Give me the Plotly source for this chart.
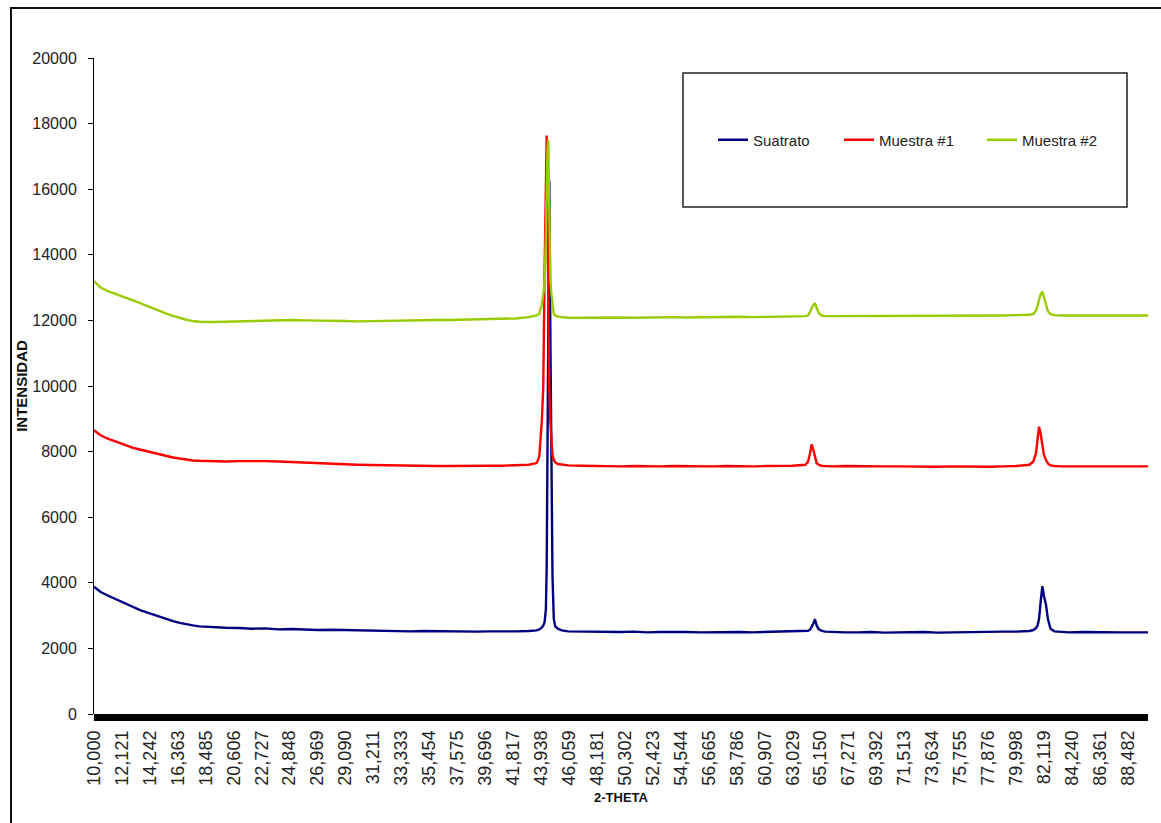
import plotly.graph_objects as go

# ---- data ----
two_theta = [
    10, 10.5, 11, 11.5, 12, 12.5, 13, 13.5, 14, 14.5, 15, 15.5, 16, 16.5, 17, 17.5,
    18, 19, 20, 21, 22, 23, 24, 25, 26, 27, 28, 29, 30, 31, 32, 33, 34, 35, 36, 37,
    38, 39, 40, 41, 42, 43,
    43.6, 43.8, 44.0, 44.1, 44.2, 44.3, 44.36, 44.42, 44.48, 44.56, 44.64, 44.72, 44.8,
    44.9, 45.0, 45.2, 45.5,
    46, 47, 48, 49, 50, 51, 52, 53, 54, 55, 56, 57, 58, 59, 60, 61, 62, 63,
    64.0, 64.2, 64.35, 64.47, 64.6, 64.72, 64.85, 65.0, 65.2, 65.5,
    66, 67, 68, 69, 70, 71, 72, 73, 74, 75, 76, 77, 78, 79, 80,
    81.0, 81.3, 81.5, 81.62, 81.73, 81.85, 81.98, 82.1, 82.25, 82.4, 82.6, 82.9,
    83.5, 84, 85, 86, 87, 88, 89, 90,
]

suatrato = [
    3880, 3720, 3620, 3530, 3430, 3340, 3250, 3170, 3100, 3030, 2960, 2890, 2830, 2780, 2730, 2700,
    2670, 2640, 2630, 2620, 2600, 2610, 2580, 2590, 2570, 2560, 2570, 2560, 2540, 2550, 2530, 2530,
    2520, 2530, 2520, 2510, 2520, 2510, 2520, 2510, 2520, 2530,
    2550, 2580, 2640, 2700, 2800, 3200, 4500, 8000, 12500, 16240, 11500, 8300, 4200,
    2900, 2680, 2600, 2550,
    2520, 2510, 2500, 2510, 2500, 2510, 2490, 2500, 2510, 2500, 2490, 2500, 2490, 2500, 2490, 2500, 2500, 2510,
    2520, 2540, 2570, 2650, 2760, 2890, 2700, 2590, 2540, 2510,
    2500, 2490, 2490, 2500, 2480, 2490, 2490, 2500, 2480, 2490, 2500, 2490, 2500, 2510, 2510,
    2530, 2560, 2620, 2700, 2900, 3400, 3900, 3600, 3350, 2900, 2600, 2520,
    2500, 2490, 2500, 2490, 2500, 2490, 2490, 2490,
]

muestra1 = [
    8650, 8500, 8400, 8320, 8250, 8180, 8110, 8060, 8000, 7950, 7900, 7860, 7820, 7790, 7750, 7730,
    7720, 7700, 7700, 7710, 7720, 7710, 7700, 7680, 7670, 7650, 7640, 7620, 7600, 7590, 7580, 7570,
    7570, 7560, 7560, 7560, 7570, 7560, 7570, 7570, 7580, 7600,
    7650, 7850, 9000, 10000, 13500, 16500, 17640, 15000, 12000, 9800, 8900, 8300, 7900,
    7750, 7680, 7620, 7600,
    7580, 7570, 7560, 7560, 7550, 7560, 7550, 7550, 7560, 7550, 7540, 7550, 7560, 7550, 7550, 7560, 7560, 7570,
    7600, 7700, 7950, 8220, 8050, 7800, 7650, 7600, 7570, 7560,
    7550, 7560, 7550, 7540, 7550, 7550, 7540, 7550, 7540, 7550, 7540, 7550, 7540, 7550, 7560,
    7600, 7700, 7950, 8400, 8760, 8550, 8150, 7900, 7750, 7640, 7580, 7560,
    7550, 7550, 7560, 7550, 7550, 7550, 7550, 7550,
]

muestra2 = [
    13200, 13000, 12900, 12820, 12750, 12680, 12600, 12530, 12450, 12350, 12270, 12210, 12140, 12070, 12020, 11980,
    11960, 11950, 11960, 11980, 12000, 12010, 12000, 12010, 12000, 12000, 11990, 11980, 11970, 11980, 11990, 12000,
    12000, 12000, 12010, 12010, 12020, 12030, 12030, 12040, 12060, 12100,
    12150, 12200, 12500, 12800, 13150, 14500, 16000, 17200, 17500, 15000, 13200, 12800, 12450,
    12200, 12150, 12120, 12100,
    12080, 12080, 12090, 12080, 12090, 12080, 12090, 12090, 12100, 12090, 12100, 12100, 12100, 12110, 12100, 12110, 12110, 12120,
    12130, 12160, 12250, 12380, 12480, 12530, 12380, 12240, 12150, 12130,
    12130, 12130, 12140, 12140, 12130, 12140, 12150, 12140, 12150, 12140, 12150, 12150, 12140, 12150, 12160,
    12170, 12200, 12300, 12450, 12620, 12800, 12880, 12700, 12450, 12280, 12190, 12160,
    12150, 12150, 12160, 12150, 12160, 12150, 12160, 12150,
]

series_names = ["Suatrato", "Muestra #1", "Muestra #2"]
series_colors = ["#000080", "#FF0000", "#99CC00"]

x_tick_labels = [
    "10,000", "12,121", "14,242", "16,363", "18,485", "20,606", "22,727", "24,848",
    "26,969", "29,090", "31,211", "33,333", "35,454", "37,575", "39,696", "41,817",
    "43,938", "46,059", "48,181", "50,302", "52,423", "54,544", "56,665", "58,786",
    "60,907", "63,029", "65,150", "67,271", "69,392", "71,513", "73,634", "75,755",
    "77,876", "79,998", "82,119", "84,240", "86,361", "88,482",
]
x_tick_vals = [float(s.replace(",", ".")) for s in x_tick_labels]
y_tick_vals = [0, 2000, 4000, 6000, 8000, 10000, 12000, 14000, 16000, 18000, 20000]
y_tick_text = [str(v) for v in y_tick_vals]

# ---- figure ----
W, H = 1161, 823
L, R, T, B = 94, 13, 58, 109
pw, ph = W - L - R, H - T - B

def px_x(p):
    return (p - L) / pw

def px_y(p):
    return (H - B - p) / ph

fig = go.Figure()
legend_ids = ["legend", "legend2", "legend3"]
for name, ys, col, lid in zip(series_names, [suatrato, muestra1, muestra2], series_colors, legend_ids):
    fig.add_trace(go.Scatter(
        x=two_theta, y=ys, mode="lines", name=name,
        line=dict(color=col, width=2.4),
        legend=lid,
    ))

leg_font = dict(family="Liberation Sans, Arial, sans-serif", size=15, color="#222")
leg_common = dict(orientation="h", xanchor="left", yanchor="middle", y=px_y(140),
                  bgcolor="rgba(0,0,0,0)", borderwidth=0, font=leg_font)

fig.update_layout(
    width=W, height=H,
    margin=dict(l=L, r=R, t=T, b=B, pad=0),
    paper_bgcolor="white", plot_bgcolor="white",
    showlegend=True,
    legend=dict(x=px_x(713), **leg_common),
    legend2=dict(x=px_x(839), **leg_common),
    legend3=dict(x=px_x(982), **leg_common),
    font=dict(family="Liberation Sans, Arial, sans-serif", color="#222"),
    xaxis=dict(
        range=[10, 90], showgrid=False, zeroline=False, showline=False,
        tickmode="array", tickvals=x_tick_vals, ticktext=x_tick_labels,
        tickangle=-90, ticks="", ticklabelstandoff=12,
        tickfont=dict(family="Liberation Sans, Arial, sans-serif", size=18, color="#222"),
        title=dict(text="<b>2-THETA</b>", standoff=8,
                   font=dict(family="Liberation Sans, Arial, sans-serif", size=13, color="#111")),
    ),
    yaxis=dict(
        range=[0, 20000], showgrid=False, zeroline=False,
        showline=True, linecolor="black", linewidth=1,
        tickmode="array", tickvals=y_tick_vals, ticktext=y_tick_text,
        ticks="outside", ticklen=5, tickcolor="black", tickwidth=1,
        ticklabelstandoff=8,
        tickfont=dict(family="Liberation Sans, Arial, sans-serif", size=16, color="#222"),
        title=dict(text="<b>INTENSIDAD</b>", standoff=1,
                   font=dict(family="Liberation Sans, Arial, sans-serif", size=15, color="#111")),
    ),
    shapes=[
        # dense category tick band along the x axis
        dict(type="rect", xref="paper", yref="paper", x0=0, x1=1,
             y0=-7 / ph, y1=0, fillcolor="black", line=dict(width=0)),
        # legend frame
        dict(type="rect", xref="paper", yref="paper",
             x0=px_x(683), x1=px_x(1127), y0=px_y(207), y1=px_y(73),
             line=dict(color="#222", width=1.5), fillcolor="rgba(0,0,0,0)"),
        # outer chart border
        dict(type="rect", xref="paper", yref="paper",
             x0=px_x(11), x1=px_x(1200), y0=px_y(900), y1=px_y(8),
             line=dict(color="#111", width=2), fillcolor="rgba(0,0,0,0)"),
    ],
)

fig.write_html("out.html")
